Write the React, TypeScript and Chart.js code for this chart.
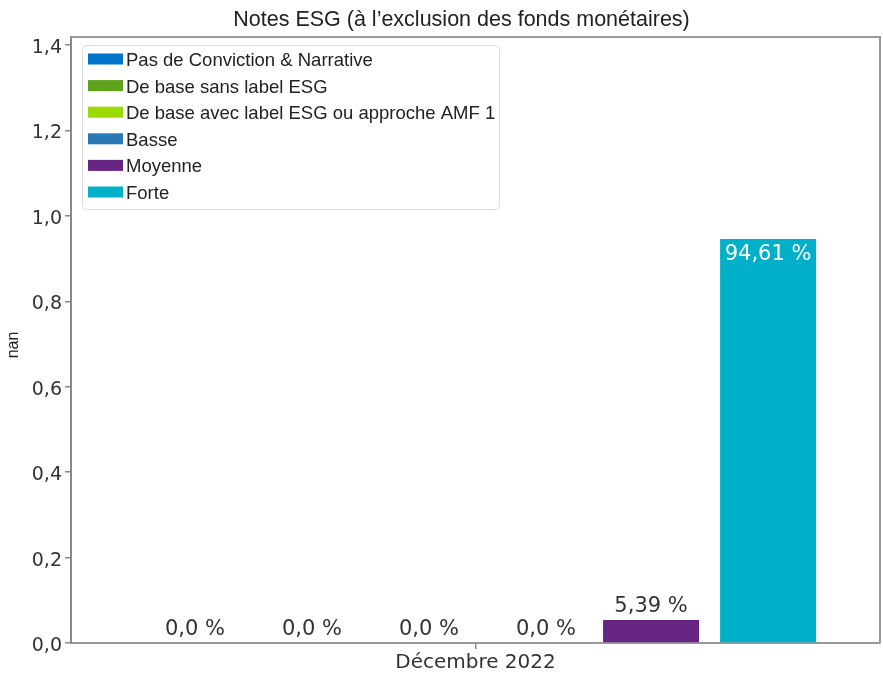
import React, { useEffect, useRef } from "react";
import { Chart, registerables } from "chart.js";

Chart.register(...registerables);

const TITLE = "Notes ESG (à l’exclusion des fonds monétaires)";
const CATEGORIES = ["Décembre 2022"];
const SERIES_NAMES = [
  "Pas de Conviction & Narrative",
  "De base sans label ESG",
  "De base avec label ESG ou approche AMF 1",
  "Basse",
  "Moyenne",
  "Forte",
];
const SERIES_VALUES = [0, 0, 0, 0, 0.0539, 0.9461];
const SERIES_LABELS = ["0,0 %", "0,0 %", "0,0 %", "0,0 %", "5,39 %", "94,61 %"];
const SERIES_COLORS = ["#0075CC", "#5EA31A", "#99DB00", "#2A78B5", "#662483", "#00B0C9"];
const Y_AXIS_TITLE = "nan";
const Y_MIN = 0;
const Y_MAX = 1.419;
const Y_STEP = 0.2;

const SANS = "'Liberation Sans', Arial, sans-serif";
const VERD = "'DejaVu Sans', Verdana, sans-serif";

const framePlugin = {
  id: "frame",
  beforeDatasetsDraw(chart: any) {
    const { ctx, chartArea } = chart;
    ctx.save();
    ctx.strokeStyle = "#9a9a9a";
    ctx.lineWidth = 2;
    ctx.beginPath();
    ctx.moveTo(chartArea.left, chartArea.top);
    ctx.lineTo(chartArea.right, chartArea.top);
    ctx.lineTo(chartArea.right, chartArea.bottom);
    ctx.stroke();
    ctx.restore();
  },
};

const titlePlugin = {
  id: "customTitle",
  afterDraw(chart: any) {
    const { ctx, chartArea } = chart;
    ctx.save();
    ctx.font = `21.5px ${SANS}`;
    ctx.fillStyle = "#222";
    ctx.textAlign = "center";
    ctx.textBaseline = "middle";
    ctx.fillText(TITLE, chartArea.left + (chartArea.right - chartArea.left) / 2 - 14, 20);
    // y-axis title
    ctx.font = `16px ${SANS}`;
    ctx.translate(14, (chartArea.top + chartArea.bottom) / 2 + 5);
    ctx.rotate(-Math.PI / 2);
    ctx.fillText(Y_AXIS_TITLE, 0, 0);
    ctx.restore();
  },
};

const labelPlugin = {
  id: "valueLabels",
  afterDatasetsDraw(chart: any) {
    const { ctx } = chart;
    ctx.save();
    ctx.font = `21px ${VERD}`;
    ctx.textAlign = "center";
    ctx.textBaseline = "middle";
    chart.data.datasets.forEach((ds: any, i: number) => {
      const meta = chart.getDatasetMeta(i);
      const el: any = meta.data[0];
      if (!el) return;
      const h = el.base - el.y;
      const text = SERIES_LABELS[i];
      if (h > 40) {
        ctx.fillStyle = "#ffffff";
        ctx.fillText(text, el.x, el.y + 16);
      } else {
        ctx.fillStyle = "#333";
        const shift = h < 1 ? 12 : 0;
        ctx.fillText(text, el.x + shift, el.y - 13);
      }
    });
    ctx.restore();
  },
};

const legendPlugin = {
  id: "insideLegend",
  afterDraw(chart: any) {
    const { ctx, chartArea } = chart;
    const bx = chartArea.left + 11.5;
    const by = chartArea.top + 8.5;
    const bw = 417;
    const bh = 164;
    ctx.save();
    ctx.fillStyle = "#ffffff";
    ctx.strokeStyle = "#dddddd";
    ctx.lineWidth = 1;
    ctx.beginPath();
    (ctx as any).roundRect(bx, by, bw, bh, 4);
    ctx.fill();
    ctx.stroke();
    ctx.font = `18.5px ${SANS}`;
    ctx.textAlign = "left";
    ctx.textBaseline = "middle";
    SERIES_NAMES.forEach((name, i) => {
      const cy = by + 13.5 + i * 26.6;
      ctx.fillStyle = SERIES_COLORS[i];
      ctx.fillRect(bx + 5.5, cy - 5.5, 35, 11);
      ctx.fillStyle = "#222";
      ctx.fillText(name, bx + 43.5, cy + 2);
    });
    ctx.restore();
  },
};

export default function App() {
  const ref = useRef<HTMLCanvasElement | null>(null);
  useEffect(() => {
    if (!ref.current) return;
    const chart = new Chart(ref.current, {
      type: "bar",
      data: {
        labels: CATEGORIES,
        datasets: SERIES_NAMES.map((name, i) => ({
          label: name,
          data: [SERIES_VALUES[i]],
          backgroundColor: SERIES_COLORS[i],
          borderWidth: 0,
          categoryPercentage: 0.868,
          barPercentage: 0.82,
        })),
      },
      options: {
        responsive: false,
        animation: false,
        devicePixelRatio: 1,
        events: [],
        layout: { padding: { top: 37, right: 3, left: 0, bottom: 0 } },
        plugins: {
          legend: { display: false },
          title: { display: false },
          tooltip: { enabled: false },
        },
        scales: {
          x: {
            grid: { display: true, drawOnChartArea: false, offset: false, tickLength: 6, color: "#888", lineWidth: 1.5 },
            border: { display: true, color: "#999", width: 2 },
            ticks: { font: { family: VERD, size: 20 }, color: "#333", padding: 2 },
            afterFit: (s: any) => {
              s.height = 31;
            },
          },
          y: {
            min: Y_MIN,
            max: Y_MAX,
            ticks: {
              stepSize: Y_STEP,
              includeBounds: false,
              callback: (v: any) => Number(v).toFixed(1).replace(".", ","),
              font: { family: VERD, size: 19 },
              color: "#333",
              padding: 3,
              labelOffset: 3,
            },
            grid: { drawOnChartArea: false, tickLength: 6, color: "#888", lineWidth: 1.5 },
            border: { display: true, color: "#888", width: 2 },
            title: { display: false },
            afterFit: (s: any) => {
              s.width = 71;
            },
          },
        },
      },
      plugins: [framePlugin, labelPlugin, legendPlugin, titlePlugin],
    } as any);
    return () => chart.destroy();
  }, []);
  return (
    <div style={{ position: "absolute", left: 0, top: 0, width: 883, height: 674, background: "#fff" }}>
      <canvas ref={ref} width={883} height={674} style={{ width: 883, height: 674, display: "block" }} />
    </div>
  );
}
